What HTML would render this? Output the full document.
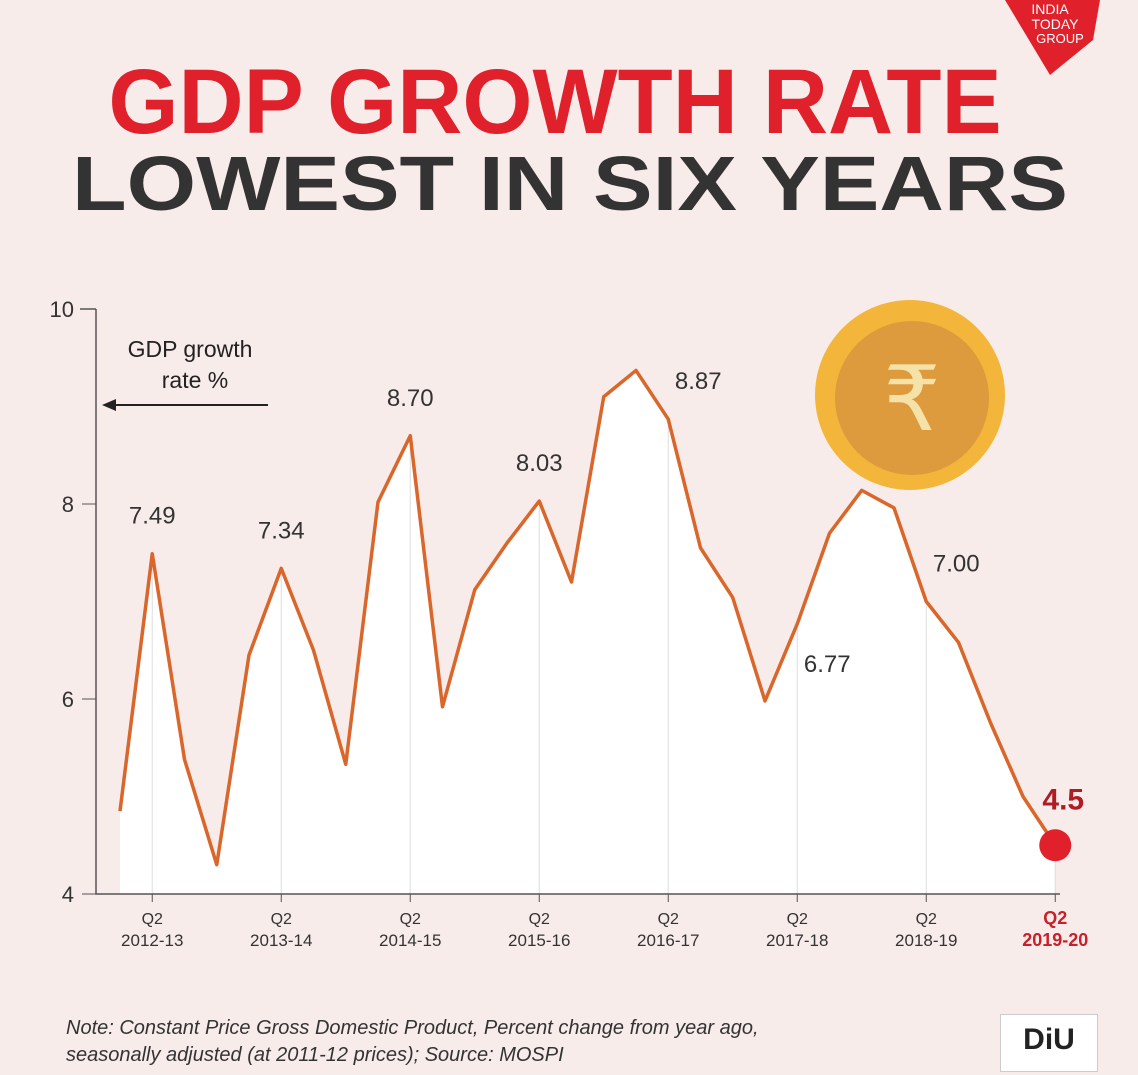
<!DOCTYPE html>
<html><head><meta charset="utf-8">
<style>
body{margin:0;width:1138px;height:1075px;background:#f8ecea;overflow:hidden;font-family:"Liberation Sans",sans-serif;}
.t{position:absolute;left:0;width:1138px;text-align:center;font-weight:900;letter-spacing:0px;white-space:nowrap;}
</style></head><body>
<div class="t" style="top:50px;left:-14px;font-size:92px;color:#e0212b;transform:scaleX(0.98)">GDP GROWTH RATE</div>
<div class="t" style="top:140px;left:1px;font-size:77px;color:#333;transform:scaleX(1.16)">LOWEST IN SIX YEARS</div>
<svg style="position:absolute;left:1005px;top:0" width="100" height="78"><polygon points="0,0 95,0 88,40 45,75" fill="#e0212b"/><text x="45" y="14" fill="#fff" font-size="14" text-anchor="middle">INDIA</text><text x="50" y="29" fill="#fff" font-size="14" text-anchor="middle">TODAY</text><text x="55" y="43" fill="#fff" font-size="13" text-anchor="middle">GROUP</text></svg>
<svg id="chart" style="position:absolute;left:0;top:0" width="1138" height="1075"></svg>
<div style="position:absolute;left:66px;top:1015px;font-size:20px;font-style:italic;color:#333;line-height:27px">Note: Constant Price Gross Domestic Product, Percent change from year ago,<br>seasonally adjusted (at 2011-12 prices); Source: MOSPI</div>
<div style="position:absolute;left:1000px;top:1014px;width:96px;height:56px;background:#fff;border:1px solid #ccc;font-weight:900;font-size:30px;text-align:center;line-height:50px;color:#222">DiU</div>
<script>
const values=[4.85,7.49,5.38,4.3,6.45,7.34,6.5,5.33,8.02,8.70,5.92,7.12,7.6,8.03,7.2,9.1,9.37,8.87,7.55,7.04,5.98,6.77,7.7,8.14,7.96,7.00,6.58,5.75,5.0,4.5];
const yTicks=[4,6,8,10];
const xLabels=[["Q2","2012-13"],["Q2","2013-14"],["Q2","2014-15"],["Q2","2015-16"],["Q2","2016-17"],["Q2","2017-18"],["Q2","2018-19"],["Q2","2019-20"]];
const labelIdx=[1,5,9,13,17,21,25];
const labelText=["7.49","7.34","8.70","8.03","8.87","6.77","7.00"];
const NS="http://www.w3.org/2000/svg",svg=document.getElementById('chart');
const X=i=>120+i*32.25, Y=v=>894-(v-4)*97.5;
function mk(t,a,p){const e=document.createElementNS(NS,t);for(const k in a)e.setAttribute(k,a[k]);(p||svg).appendChild(e);return e;}
let d='M'+X(0)+','+Y(4);values.forEach((v,i)=>d+='L'+X(i)+','+Y(v));d+='L'+X(values.length-1)+','+Y(4)+'Z';
const area=mk('path',{d:d,fill:'#fff'});


xLabels.forEach((l,k)=>{const x=X(1+4*k);
const g=mk('line',{x1:x,x2:x,y1:Y(values[1+4*k])+4,y2:894,stroke:'#ddd','stroke-width':1});


const last=k==xLabels.length-1;
const t1=mk('text',{x:x,y:924,'text-anchor':'middle','font-size':last?18:16,'font-weight':last?'bold':'normal',fill:last?'#c8202a':'#333'});t1.textContent=l[0];


const t2=mk('text',{x:x,y:946,'text-anchor':'middle','font-size':last?18:17,'font-weight':last?'bold':'normal',fill:last?'#c8202a':'#333'});t2.textContent=l[1];


mk('line',{x1:x,x2:x,y1:894,y2:902,stroke:'#555'});});
const ax=mk('path',{d:'M96,309H80M96,309V894H1060',stroke:'#555',fill:'none','stroke-width':1.5});


yTicks.forEach(v=>{mk('line',{x1:82,x2:96,y1:Y(v),y2:Y(v),stroke:'#555'});
const t=mk('text',{x:74,y:Y(v)+8,'text-anchor':'end','font-size':22,fill:'#333'});t.textContent=v;

});
const ln=mk('polyline',{points:values.map((v,i)=>X(i)+','+Y(v)).join(' '),fill:'none',stroke:'#d9662a','stroke-width':3.5,'stroke-linejoin':'round'});


labelIdx.forEach((i,k)=>{const dy=(i==21)?-5:-30;const dx=(i==17||i==21||i==25)?30:0;
const t=mk('text',{x:X(i)+dx,y:(i==21?Y(values[i])+48:Y(values[i])+dy),'text-anchor':'middle','font-size':24,fill:'#333'});t.textContent=labelText[k];

});
const n=values.length-1;
const dot=mk('circle',{cx:X(n),cy:Y(values[n]),r:16,fill:'#e0212b'});


const lt=mk('text',{x:X(n)+8,y:Y(values[n])-36,'text-anchor':'middle','font-size':30,'font-weight':'bold',fill:'#b01c24'});lt.textContent=values[n];


const lg=mk('text',{x:190,y:357,'text-anchor':'middle','font-size':23,fill:'#222'});lg.textContent='GDP growth';


const lg2=mk('text',{x:195,y:388,'text-anchor':'middle','font-size':23,fill:'#222'});lg2.textContent='rate %';


mk('path',{d:'M268,405H110',stroke:'#222','stroke-width':2});mk('polygon',{points:'102,405 116,399 116,411',fill:'#222'});
const coin=mk('g',{});


mk('circle',{cx:910,cy:395,r:95,fill:'#f4b63a'},coin);mk('circle',{cx:912,cy:398,r:77,fill:'#dd9b3e'},coin);
const r=mk('text',{x:912,y:430,'text-anchor':'middle','font-size':90,fill:'#f5e2a8'},coin);r.textContent='₹';
</script>
</body></html>
